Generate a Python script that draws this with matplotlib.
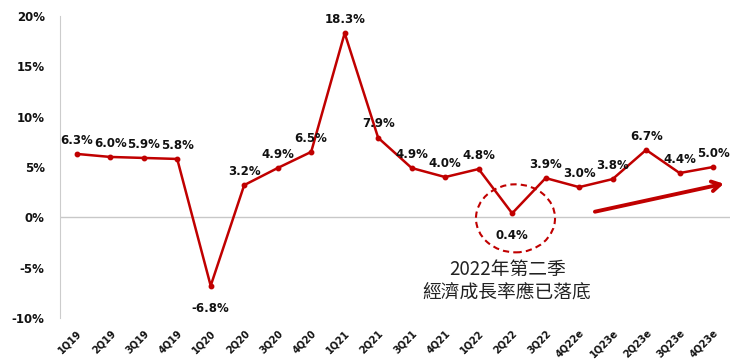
import matplotlib
matplotlib.use("Agg")
import matplotlib.pyplot as plt
from matplotlib.patches import Ellipse

quarters = ["1Q19", "2Q19", "3Q19", "4Q19", "1Q20", "2Q20", "3Q20", "4Q20",
            "1Q21", "2Q21", "3Q21", "4Q21", "1Q22", "2Q22", "3Q22", "4Q22e",
            "1Q23e", "2Q23e", "3Q23e", "4Q23e"]
growth = [6.3, 6.0, 5.9, 5.8, -6.8, 3.2, 4.9, 6.5, 18.3, 7.9, 4.9, 4.0, 4.8,
          0.4, 3.9, 3.0, 3.8, 6.7, 4.4, 5.0]
yticks = [-10, -5, 0, 5, 10, 15, 20]
note_lines = ["2022年第二季", "經濟成長率應已落底"]

red = "#C00000"
fig = plt.figure(figsize=(7.44, 3.64), dpi=100)
ax = fig.add_axes([0.0806, 0.1264, 0.9004, 0.8296])
x = list(range(len(quarters)))
ax.plot(x, growth, color=red, lw=1.8, marker="o", ms=3.2, zorder=3)

ax.set_xlim(-0.5, len(quarters) - 0.5)
ax.set_ylim(-10, 20)
ax.set_yticks(yticks)
ax.set_yticklabels([f"{v}%" for v in yticks], fontsize=8.5, fontweight="bold", color="#111111")
ax.set_xticks(x)
ax.set_xticklabels(quarters, rotation=45, ha="right", va="top", rotation_mode="anchor",
                   fontsize=7, fontweight="bold", color="#111111")
ax.tick_params(axis="both", length=0)
ax.tick_params(axis="y", pad=11)
ax.tick_params(axis="x", pad=7)
for s in ["top", "right", "bottom"]:
    ax.spines[s].set_visible(False)
ax.spines["left"].set_color("#cccccc")
ax.axhline(0, color="#c8c8c8", lw=1, zorder=1)

for i, v in enumerate(growth):
    if v < 1:
        ax.annotate(f"{v:.1f}%", (i, v), xytext=(0, -16), textcoords="offset points",
                    ha="center", va="center", fontsize=8.5, fontweight="bold", color="#111111")
    else:
        ax.annotate(f"{v:.1f}%", (i, v), xytext=(0, 10), textcoords="offset points",
                    ha="center", va="center", fontsize=8.5, fontweight="bold", color="#111111")

ell = Ellipse((13.1, -0.1), 2.36, 6.76, fill=False, ec=red, lw=1.5, ls=(0, (3, 2)), zorder=2)
ax.add_patch(ell)

ax.annotate("", xy=(19.4, 3.4), xytext=(15.39, 0.5),
            arrowprops=dict(arrowstyle="->,head_length=0.6,head_width=0.35", color=red, lw=2.8))

ax.text(12.85, -5.2, note_lines[0], ha="center", va="center", fontsize=13.5,
        family=["Noto Sans CJK TC", "DejaVu Sans"], color="#222222")
ax.text(12.85, -7.45, note_lines[1], ha="center", va="center", fontsize=13.5,
        family=["Noto Sans CJK TC", "DejaVu Sans"], color="#222222")

fig.savefig("out.png", dpi=100)
